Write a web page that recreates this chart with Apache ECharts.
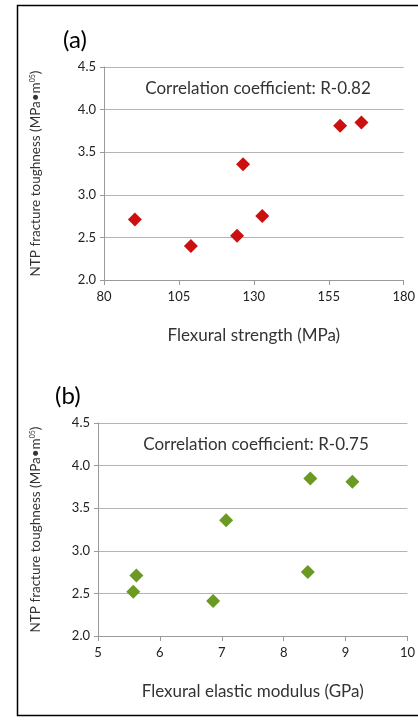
<!DOCTYPE html>
<html>
<head>
<meta charset="utf-8">
<script src="https://cdn.jsdelivr.net/npm/echarts@6/dist/echarts.min.js"></script>
<style>
  html, body { margin: 0; padding: 0; background: #fff; }
  #chart { width: 418px; height: 725px; }
</style>
</head>
<body>
<div id="chart"></div>
<script>
// (a) 弯曲强度 vs 断裂韧性
const strengthX = [90.3, 109.0, 124.4, 126.4, 132.8, 158.8, 165.9];
const toughnessA = [2.71, 2.40, 2.52, 3.36, 2.75, 3.81, 3.85];
const xTicksA = { min: 80, max: 180, interval: 25 };

// (b) 弯曲弹性模量 vs 断裂韧性
const modulusX = [5.62, 5.57, 6.86, 7.07, 8.39, 8.43, 9.11];
const toughnessB = [2.71, 2.52, 2.41, 3.36, 2.75, 3.85, 3.81];
const xTicksB = { min: 5, max: 10, interval: 1 };

const yTicks = { min: 2.0, max: 4.5, interval: 0.5 };
const titles = ['(a)', '(b)'];
const notes = ['Correlation coefficient: R-0.82', 'Correlation coefficient: R-0.75'];
const xNames = ['Flexural strength (MPa)', 'Flexural elastic modulus (GPa)'];

const FONT = 'Lato';
const TXT = '#333333';

const chart = echarts.init(document.getElementById('chart'));

function makeX(idx, ticks, name) {
    return {
        gridIndex: idx,
        type: 'value',
        min: ticks.min, max: ticks.max, interval: ticks.interval,
        name: name,
        nameLocation: 'middle',
        nameGap: 47,
        nameTextStyle: { fontFamily: FONT, fontSize: 17, color: TXT },
        axisLine: { show: true, lineStyle: { color: '#9a9a9a', width: 1 } },
        axisTick: { show: true, length: 5, lineStyle: { color: '#9a9a9a' } },
        axisLabel: { fontFamily: FONT, fontSize: 13, color: '#222', margin: 10,
            formatter: v => String(v) },
        splitLine: { show: false }
    };
}

function makeY(idx, gap) {
    return {
        gridIndex: idx,
        type: 'value',
        min: yTicks.min, max: yTicks.max, interval: yTicks.interval,
        name: '{a|NTP fracture toughness (MPa•m}{s|05}{a|)}',
        nameLocation: 'middle',
        nameGap: gap,
        nameTextStyle: {
            rich: {
                a: { fontFamily: FONT, fontSize: 13.5, color: TXT },
                s: { fontFamily: FONT, fontSize: 7, color: TXT, verticalAlign: 'top', padding: [0, 0, 7, 0] }
            }
        },
        axisLine: { show: true, lineStyle: { color: '#9a9a9a', width: 1 } },
        axisTick: { show: true, length: 4, lineStyle: { color: '#9a9a9a' } },
        axisLabel: { fontFamily: FONT, fontSize: 13, color: '#222', margin: 8,
            formatter: v => v.toFixed(1) },
        splitLine: { show: true, lineStyle: { color: '#b4b4b4', width: 1 } }
    };
}

const option = {
    animation: false,
    backgroundColor: '#fff',
    grid: [
        { left: 104, top: 67, width: 308, height: 213 },
        { left: 98, top: 423, width: 311, height: 213 }
    ],
    xAxis: [makeX(0, xTicksA, xNames[0]), makeX(1, xTicksB, xNames[1])],
    yAxis: [makeY(0, 61), makeY(1, 55)],
    series: [
        {
            type: 'scatter', xAxisIndex: 0, yAxisIndex: 0,
            symbol: 'diamond', symbolSize: 14,
            itemStyle: { color: '#cc1010', opacity: 1 },
            data: strengthX.map((x, i) => [x, toughnessA[i]])
        },
        {
            type: 'scatter', xAxisIndex: 1, yAxisIndex: 1,
            symbol: 'diamond', symbolSize: 14,
            itemStyle: { color: '#6a9a22', opacity: 1 },
            data: modulusX.map((x, i) => [x, toughnessB[i]])
        }
    ],
    graphic: [
        // 外框
        { type: 'rect', shape: { x: 17.5, y: 5.5, width: 440, height: 710 },
          style: { fill: 'none', stroke: '#000', lineWidth: 1.5 }, silent: true },
        { type: 'text', left: 63, top: 28,
          style: { text: titles[0], font: '24px ' + FONT, fill: '#000' } },
        { type: 'text', left: 55, top: 384,
          style: { text: titles[1], font: '24px ' + FONT, fill: '#000' } },
        { type: 'text', x: 258, y: 89,
          style: { text: notes[0], font: '17px ' + FONT, fill: TXT, align: 'center', verticalAlign: 'middle' } },
        { type: 'text', x: 256, y: 445,
          style: { text: notes[1], font: '17px ' + FONT, fill: TXT, align: 'center', verticalAlign: 'middle' } }
    ]
};

chart.setOption(option);
window.addEventListener('resize', () => chart.resize());
</script>
</body>
</html>
